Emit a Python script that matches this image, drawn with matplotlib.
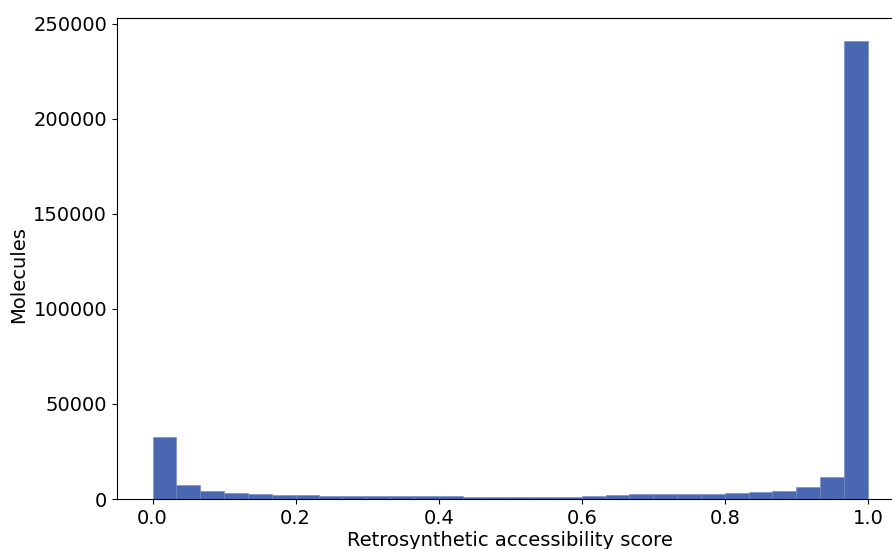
import numpy as np
import matplotlib.pyplot as plt

# 30 equal-width bins over [0, 1]
bin_edges = np.linspace(0, 1, 31)
counts = [32600, 7400, 4400, 3300, 2600, 2300, 1900, 1700, 1600, 1600,
          1600, 1600, 1500, 1000, 900, 900, 900, 900, 1400, 1900,
          2400, 2600, 2700, 2800, 3100, 3700, 4400, 6100, 11400, 241000]

xlabel = "Retrosynthetic accessibility score"
ylabel = "Molecules"

fig = plt.figure(figsize=(8.92, 5.49), dpi=100)
ax = fig.add_axes([0.131, 0.091, 0.882, 0.876])

centers = (bin_edges[:-1] + bin_edges[1:]) / 2
ax.hist(centers, bins=bin_edges, weights=counts, color="#4a67b1",
        edgecolor="#6f88c4", linewidth=0.4)

ax.set_xlim(-0.05, 1.05)
ax.set_ylim(0, 253000)
ax.set_xticks([0.0, 0.2, 0.4, 0.6, 0.8, 1.0])
ax.set_yticks([0, 50000, 100000, 150000, 200000, 250000])
ax.tick_params(labelsize=14)
ax.set_xlabel(xlabel, fontsize=14, labelpad=2)
ax.set_ylabel(ylabel, fontsize=14)
ax.yaxis.label.set_y(0.466)

fig.savefig("out.png", dpi=100)
